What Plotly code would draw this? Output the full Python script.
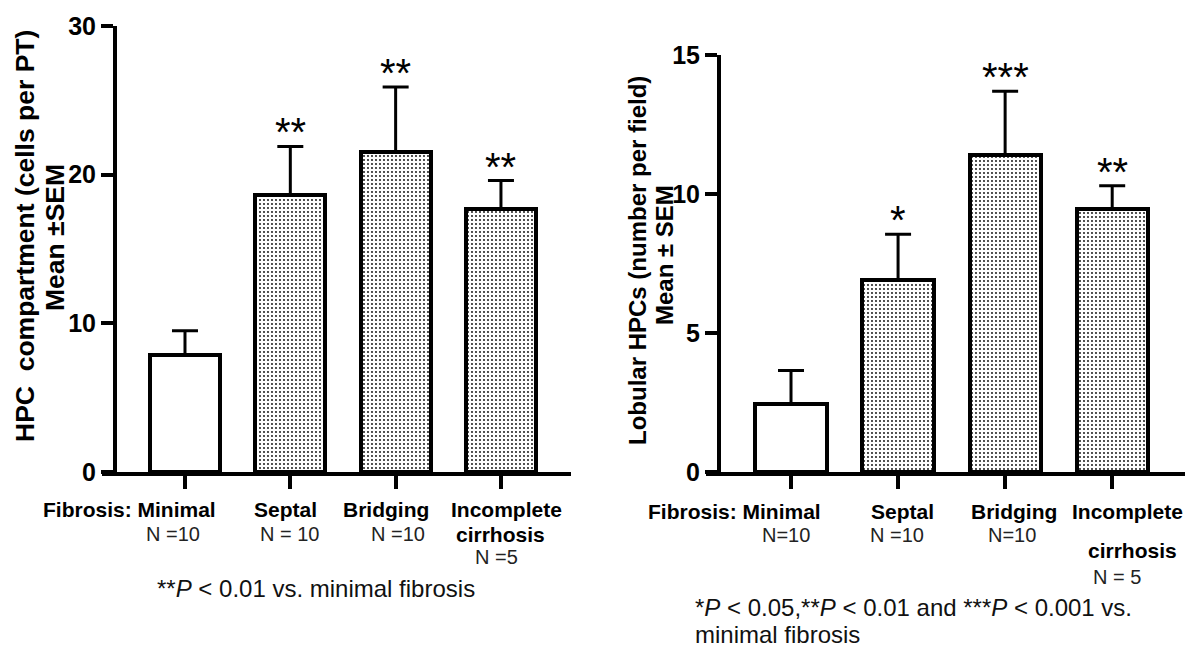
import plotly.graph_objects as go

W, H = 1190, 652

categories = ["Minimal", "Septal", "Bridging", "Incomplete cirrhosis"]

# Left panel: HPC compartment (cells per PT), mean and SEM
left_means = [7.9, 18.6, 21.5, 17.7]
left_sem = [1.6, 3.3, 4.4, 1.9]
left_stars = ["", "**", "**", "**"]
left_n = ["N =10", "N = 10", "N =10", "N =5"]
left_ticks = [0, 10, 20, 30]

# Right panel: Lobular HPCs (number per field), mean and SEM
right_means = [2.45, 6.9, 11.4, 9.45]
right_sem = [1.2, 1.65, 2.3, 0.85]
right_stars = ["", "*", "***", "**"]
right_n = ["N=10", "N =10", "N=10", "N = 5"]
right_ticks = [0, 5, 10, 15]


def px(x):
    return x / W


def py(y):
    return 1 - y / H


xpos = list(range(len(categories)))
patterns = ["", ".", ".", "."]

fig = go.Figure()

for means, sem, xa, ya in [(left_means, left_sem, "x", "y"), (right_means, right_sem, "x2", "y2")]:
    fig.add_trace(go.Bar(
        x=xpos, y=means, xaxis=xa, yaxis=ya,
        width=0.665,
        marker=dict(color="white",
                    line=dict(color="black", width=4),
                    pattern=dict(shape=patterns, fgcolor="black", bgcolor="white",
                                 size=4, solidity=0.16)),
        error_y=dict(type="data", symmetric=False, array=sem,
                     arrayminus=[0] * len(sem), color="black",
                     thickness=3, width=13),
        showlegend=False, hoverinfo="skip",
    ))

tickfont = dict(family="Liberation Sans, Arial, sans-serif",
                size=25, color="black", weight="bold")

axis_common = dict(showgrid=False, zeroline=False, showline=True, linecolor="black",
                   linewidth=4, ticks="outside", tickcolor="black", tickwidth=4,
                   automargin=False)

fig.update_layout(
    template="none",
    width=W, height=H, autosize=False,
    margin=dict(l=0, r=0, t=0, b=0, pad=0),
    paper_bgcolor="white", plot_bgcolor="white",
    bargap=0,
    xaxis=dict(domain=[px(102), px(571)], range=[-0.788, 3.665], anchor="y",
               tickvals=xpos, showticklabels=False, ticklen=13, **axis_common),
    yaxis=dict(domain=[py(472), py(26)], range=[0, 30], anchor="free",
               position=px(115), tickvals=left_ticks, ticklen=12,
               tickfont=tickfont, **axis_common),
    xaxis2=dict(domain=[px(706), px(1185)], range=[-0.794, 3.68], anchor="y2",
                tickvals=xpos, showticklabels=False, ticklen=13, **axis_common),
    yaxis2=dict(domain=[py(472), py(55)], range=[0, 15], anchor="free",
                position=px(719), tickvals=right_ticks, ticklen=12,
                tickfont=tickfont, **axis_common),
)

ann = []
star_font = dict(family="Liberation Sans, Arial, sans-serif", size=40, color="black")
for means, sem, stars, xa, ya in [(left_means, left_sem, left_stars, "x", "y"),
                                  (right_means, right_sem, right_stars, "x2", "y2")]:
    for i, s in enumerate(stars):
        if s:
            ann.append(dict(x=xpos[i], y=means[i] + sem[i], xref=xa, yref=ya,
                            text=s, showarrow=False, yanchor="bottom", yshift=-10,
                            font=star_font))

bold = dict(family="Liberation Sans, Arial, sans-serif", size=21, color="black", weight="bold")
reg = dict(family="Liberation Sans, Arial, sans-serif", size=20, color="#222222")
foot = dict(family="Liberation Sans, Arial, sans-serif", size=24, color="#111111")
ytitle_l = dict(family="Liberation Sans, Arial, sans-serif", size=26.5, color="black", weight="bold")
ytitle_r = dict(family="Liberation Sans, Arial, sans-serif", size=24, color="black", weight="bold")


def txt(x, y, t, font, xanchor="center", angle=0):
    ann.append(dict(x=px(x), y=py(y), xref="paper", yref="paper", text=t,
                    showarrow=False, xanchor=xanchor, yanchor="middle",
                    font=font, textangle=angle))


# Left panel labels
txt(25, 236, "HPC\u00a0 compartment (cells per PT)", ytitle_l, angle=-90)
txt(55, 238, "Mean ±SEM", ytitle_l, angle=-90)
txt(218, 509, "Fibrosis: " + categories[0], bold, xanchor="right")
txt(285, 509, categories[1], bold)
txt(386, 509, categories[2], bold)
txt(506, 509, categories[3].split(" ")[0], bold)
txt(500, 534, categories[3].split(" ")[1], bold)
txt(173, 534, left_n[0], reg)
txt(289, 534, left_n[1], reg)
txt(398, 534, left_n[2], reg)
txt(496, 557, left_n[3], reg)
txt(316, 588, "**<i>P</i> &lt; 0.01 vs. minimal fibrosis", foot)

# Right panel labels
txt(637, 261, "Lobular HPCs (number per field)", ytitle_r, angle=-90)
txt(664, 255, "Mean ± SEM", ytitle_r, angle=-90)
txt(823, 511, "Fibrosis: " + categories[0], bold, xanchor="right")
txt(902, 511, categories[1], bold)
txt(1014, 511, categories[2], bold)
txt(1127, 511, categories[3].split(" ")[0], bold)
txt(1132, 550, categories[3].split(" ")[1], bold)
txt(786, 535, right_n[0], reg)
txt(897, 535, right_n[1], reg)
txt(1012, 535, right_n[2], reg)
txt(1117, 577, right_n[3], reg)
txt(693, 607, "*<i>P</i> &lt; 0.05,**<i>P</i> &lt; 0.01 and ***<i>P</i> &lt; 0.001 vs.", foot, xanchor="left")
txt(693, 634, "minimal fibrosis", foot, xanchor="left")

fig.update_layout(annotations=ann)
fig.write_html("out.html")
